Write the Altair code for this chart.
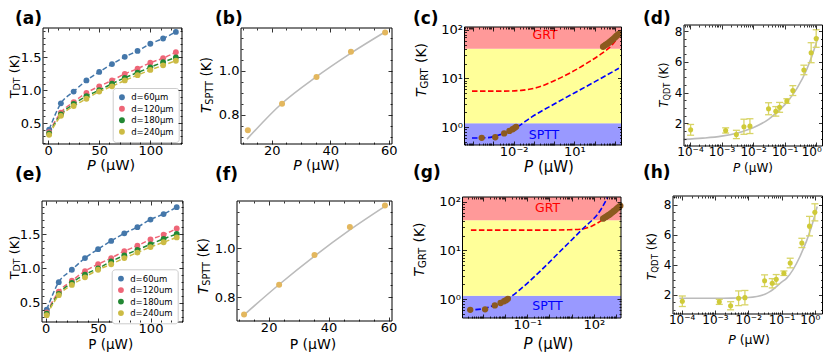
import altair as alt
import pandas as pd

W, H = 815, 344
FONT = "DejaVu Sans"

# ---------------- data ----------------
P_dt = [1, 12.5, 25, 37.5, 50, 62.5, 75, 87.5, 100, 112.5, 125]
T_dt_60 = [0.40, 0.80, 0.98, 1.15, 1.28, 1.40, 1.51, 1.60, 1.71, 1.79, 1.89]
T_dt_120 = [0.36, 0.66, 0.82, 0.96, 1.06, 1.15, 1.25, 1.33, 1.42, 1.49, 1.58]
T_dt_180 = [0.34, 0.63, 0.79, 0.91, 1.00, 1.10, 1.19, 1.27, 1.35, 1.43, 1.50]
T_dt_240 = [0.32, 0.61, 0.76, 0.87, 0.98, 1.06, 1.15, 1.23, 1.31, 1.38, 1.45]
names_top = ["d=60μm", "d=120μm", "d=180μm", "d=240μm"]
names_bot = ["d=60um", "d=120um", "d=180um", "d=240um"]
series_colors = ["#4477AA", "#EE6677", "#228833", "#CCBB44"]

P_sptt = [11.8, 23.5, 35.3, 47.1, 58.8]
T_sptt = [0.730, 0.851, 0.972, 1.087, 1.175]
fit_b_P = [11.5, 23.5, 35.3, 47.1, 58.9]
fit_b_T = [0.690, 0.853, 0.974, 1.081, 1.178]
fit_f_P = [11.8, 23.5, 35.3, 47.1, 58.9]
fit_f_T = [0.728, 0.852, 0.968, 1.075, 1.172]

sptt_logP = [-3.58, -2.91, -2.47, -2.21, -2.05, -1.96, -1.88]
sptt_T = [0.60, 0.615, 0.74, 0.83, 0.90, 0.95, 1.01]
grt_logP = [2.42, 2.48, 2.54, 2.60, 2.66, 2.72, 2.78, 2.84, 2.90, 2.96, 3.02, 3.08, 3.14, 3.20]
grt_T = [45, 47, 49, 51, 53, 55, 58, 61, 64, 67, 71, 75, 79, 83]

c_red_logP = [-4.06, -3.0, -2.45, -1.62, -0.80, 0.03, 0.86, 1.68, 2.34, 2.84, 3.28]
c_red_T = [5.5, 5.5, 5.5, 5.7, 6.6, 9.1, 13.5, 21.4, 32.4, 47.9, 83.0]
c_blue_logP = [-4.06, -3.27, -2.78, -2.28, -1.87, -1.12, 0.03, 1.68, 3.2]
c_blue_T = [0.594, 0.605, 0.676, 0.794, 0.977, 1.60, 3.02, 7.18, 16.2]
g_red_logP = [-3.55, -2.0, 0.0, 0.84, 1.44, 1.9, 2.35, 2.8, 3.2]
g_red_T = [26.2, 26.2, 26.2, 26.6, 27.5, 31.6, 41.7, 61.7, 89.1]
g_blue_logP = [-3.71, -3.08, -2.48, -2.03, -1.80, -1.27, -0.37, 0.54, 1.44, 2.35, 2.62]
g_blue_T = [0.594, 0.622, 0.753, 0.955, 1.08, 1.66, 3.94, 10.2, 26.2, 73.1, 123.0]
c_band_edges = [1.2, 41.0]
g_band_edges = [1.17, 42.0]
band_colors = ["#9999FF", "#FFFF99", "#FF9999"]

qdt_logP = [-3.98, -2.87, -2.53, -2.29, -2.10, -1.51, -1.28, -1.16, -0.93, -0.74, -0.39, -0.16, 0.0]
qdt_T = [1.58, 1.54, 1.28, 1.78, 1.82, 2.95, 2.78, 3.04, 3.45, 4.13, 5.47, 6.59, 7.51]
qdt_err = [0.35, 0.17, 0.27, 0.49, 0.48, 0.39, 0.31, 0.32, 0.15, 0.32, 0.31, 0.65, 0.57]
fit_d_logP = [-4.2, -3.6, -3.0, -2.5, -2.0, -1.5, -1.0, -0.6, -0.3, 0.0, 0.06]
fit_d_T = [0.96, 1.04, 1.17, 1.38, 1.72, 2.28, 3.2, 4.3, 5.5, 7.2, 7.62]
fit_h_logP = [-4.07, -3.0, -2.5, -2.0, -1.5, -1.35, -1.0, -0.85, -0.45, -0.1, 0.07]
fit_h_T = [1.78, 1.78, 1.79, 1.83, 2.05, 2.22, 2.85, 3.11, 4.55, 6.55, 7.9]

# ---------------- layout (pixels inside the chart) ----------------
GEOM = {
    'a': (35, 174, 20, 136), 'b': (233, 384, 20, 136),
    'c': (456.5, 613.5, 19, 137), 'd': (676, 814.5, 17, 138),
    'e': (34, 175, 193, 314), 'f': (229, 384, 193, 313),
    'g': (454.5, 613, 189, 310), 'h': (665, 814.5, 188, 306),
}
DOM = {
    'a': ([-5, 131], [0.18, 1.95]),
    'b': ([9.45, 61.15], [0.668, 1.195]),
    'c': ([10 ** -4.43, 10 ** 3.33], [10 ** -0.37, 10 ** 2.06]),
    'd': ([10 ** -4.19, 10 ** 0.20], [0.53, 8.39]),
    'e': ([-3.5, 131], [0.22, 1.98]),
    'f': ([9.45, 61.15], [0.703, 1.193]),
    'g': ([10 ** -3.93, 10 ** 3.23], [10 ** -0.39, 10 ** 2.1]),
    'h': ([10 ** -4.26, 10 ** 0.23], [0.73, 8.6]),
}
dt_xmaj = [0, 50, 100]
dt_xmin = [10, 20, 30, 40, 60, 70, 80, 90, 110, 120, 130]
dt_ymaj = [0.5, 1.0, 1.5]
dt_ymin = [0.2, 0.3, 0.4, 0.6, 0.7, 0.8, 0.9, 1.1, 1.2, 1.3, 1.4, 1.6, 1.7, 1.8, 1.9]
sp_xmaj = [20, 40, 60]
sp_xmin = [10, 15, 25, 30, 35, 45, 50, 55]
sp_ymaj = [0.8, 1.0]
sp_ymin = [0.7, 0.75, 0.85, 0.9, 0.95, 1.05, 1.1, 1.15]
qd_ymaj = [2, 4, 6, 8]
qd_ymin = [1, 1.5, 2.5, 3, 3.5, 4.5, 5, 5.5, 6.5, 7, 7.5, 8.5]
LOG_MINOR = [k * 10.0 ** e for e in range(-6, 4) for k in range(2, 10)]

SUP = str.maketrans("-0123456789", "⁻⁰¹²³⁴⁵⁶⁷⁸⁹")


def p10(e):
    return "10" + str(e).translate(SUP)


def log_expr(exps):
    expr = "''"
    for e in exps:
        expr = f"abs(log(datum.value)/LN10 - ({e})) < 0.01 ? '{p10(e)}' : {expr}"
    return expr


def within(vals, dom):
    lo, hi = dom
    return [v for v in vals if lo * 0.999 <= v <= hi * 1.001]


def mk_scale(kind, dom, rng):
    if kind == 'log':
        return alt.Scale(type='log', domain=dom, range=rng, nice=False)
    return alt.Scale(type='linear', domain=dom, range=rng, nice=False, zero=False)


def axis_layers(xs, ys, key, xmaj, xmin, ymaj, ymin, xlab, ylab, fs):
    x0, x1, y0, y1 = GEOM[key]
    xd, yd = DOM[key]
    xmaj, xmin = within(xmaj, xd), within(xmin, xd)
    ymaj, ymin = within(ymaj, yd), within(ymin, yd)
    df = pd.DataFrame({'x': xd, 'y': yd})
    base = dict(domain=False, grid=False, title=None, tickColor='black', tickWidth=0.8,
                labelColor='black', labelFlush=False, labelOverlap=False, zindex=3,
                labelFont=FONT, labelFontSize=fs)
    xlab = dict(xlab, labelPadding=0)
    ylab = dict(ylab, labelPadding=2)

    def A(orient, off, size, vals, labels, extra):
        kw = dict(base, orient=orient, offset=off, tickSize=size, values=vals, labels=labels)
        if labels:
            kw.update(extra)
        return alt.Axis(**kw)

    pairs = [
        (A('bottom', (y1 - 4) - H, 4, xmaj, True, xlab), A('left', -(x0 + 4), 4, ymaj, True, ylab)),
        (A('top', -(y0 + 4), 4, xmaj, False, {}), A('right', (x1 - 4) - W, 4, ymaj, False, {})),
        (A('bottom', (y1 - 2) - H, 2, xmin, False, {}), A('left', -(x0 + 2), 2, ymin, False, {})),
        (A('top', -(y0 + 2), 2, xmin, False, {}), A('right', (x1 - 2) - W, 2, ymin, False, {})),
    ]
    out = []
    for xa, ya in pairs:
        out.append(alt.Chart(df).mark_point(opacity=0).encode(
            x=alt.X('x:Q', scale=xs, axis=xa), y=alt.Y('y:Q', scale=ys, axis=ya)))
    return out


def frame(xs, ys, key):
    xd, yd = DOM[key]
    df = pd.DataFrame({'x': [xd[0]], 'x2': [xd[1]], 'y': [yd[0]], 'y2': [yd[1]]})
    return alt.Chart(df).mark_rect(fillOpacity=0, stroke='black', strokeWidth=1).encode(
        x=alt.X('x:Q', scale=xs, axis=None), x2='x2:Q',
        y=alt.Y('y:Q', scale=ys, axis=None), y2='y2:Q')


def enc(xs, ys, xf='P', yf='T'):
    return dict(x=alt.X(f'{xf}:Q', scale=xs, axis=None), y=alt.Y(f'{yf}:Q', scale=ys, axis=None))


def panel(key, xkind, ykind, layers_fn, ticks, xlab, ylab, fs):
    x0, x1, y0, y1 = GEOM[key]
    xd, yd = DOM[key]
    xs = mk_scale(xkind, xd, [x0, x1])
    ys = mk_scale(ykind, yd, [y1, y0])
    layers = layers_fn(xs, ys)
    layers.append(frame(xs, ys, key))
    layers += axis_layers(xs, ys, key, *ticks, xlab, ylab, fs)
    return alt.layer(*layers).resolve_axis(x='independent', y='independent')


# ---------- panel contents ----------
def dt_layers(names, lx, ly):
    def fn(xs, ys):
        out = []
        for col, Ts in zip(series_colors, [T_dt_60, T_dt_120, T_dt_180, T_dt_240]):
            df = pd.DataFrame({'P': P_dt, 'T': Ts})
            out.append(alt.Chart(df).mark_line(color=col, strokeWidth=1.5, strokeDash=[5, 2.5],
                                               interpolate='monotone').encode(**enc(xs, ys)))
        df_all = pd.DataFrame({'P': P_dt * 4, 'T': T_dt_60 + T_dt_120 + T_dt_180 + T_dt_240,
                               'd': [n for n in names for _ in P_dt]})
        out.append(alt.Chart(df_all).mark_circle(size=34, opacity=1).encode(
            **enc(xs, ys),
            color=alt.Color('d:N', scale=alt.Scale(domain=names, range=series_colors),
                            legend=alt.Legend(orient='none', legendX=lx, legendY=ly, title=None,
                                              labelFontSize=8.5, labelFont=FONT, symbolSize=34,
                                              symbolType='circle', symbolStrokeWidth=0,
                                              padding=5, rowPadding=2.5, labelOffset=5,
                                              strokeColor='#cccccc', fillColor='white',
                                              cornerRadius=3, offset=0))))
        return out
    return fn


def sptt_layers(fP, fT):
    def fn(xs, ys):
        fit = pd.DataFrame({'P': fP, 'T': fT})
        pts = pd.DataFrame({'P': P_sptt, 'T': T_sptt})
        return [
            alt.Chart(fit).mark_line(color='#BBBBBB', strokeWidth=1.6, interpolate='monotone').encode(**enc(xs, ys)),
            alt.Chart(pts).mark_circle(size=36, opacity=1, color='#E3B75E').encode(**enc(xs, ys)),
        ]
    return fn


def grt_layers(key, edges, rP, rT, bP, bT):
    def fn(xs, ys):
        xd, yd = DOM[key]
        bands = pd.DataFrame({'x': [xd[0]] * 3, 'x2': [xd[1]] * 3,
                              'y': [yd[0], edges[0], edges[1]], 'y2': [edges[0], edges[1], yd[1]],
                              'c': band_colors})
        red = pd.DataFrame({'P': [10 ** v for v in rP], 'T': rT})
        blue = pd.DataFrame({'P': [10 ** v for v in bP], 'T': bT})
        pts = pd.DataFrame({'P': [10 ** v for v in sptt_logP + grt_logP], 'T': sptt_T + grt_T})
        return [
            alt.Chart(bands).mark_rect().encode(
                x=alt.X('x:Q', scale=xs, axis=None), x2='x2:Q',
                y=alt.Y('y:Q', scale=ys, axis=None), y2='y2:Q',
                color=alt.Color('c:N', scale=None, legend=None)),
            alt.Chart(red).mark_line(color='#FF0000', strokeWidth=1.6, strokeDash=[5.5, 2.5],
                                     interpolate='monotone').encode(**enc(xs, ys)),
            alt.Chart(blue).mark_line(color='#0000FF', strokeWidth=1.6, strokeDash=[5.5, 2.5],
                                      interpolate='monotone').encode(**enc(xs, ys)),
            alt.Chart(pts).mark_circle(size=40, opacity=1, color='#8C5A1F').encode(**enc(xs, ys)),
        ]
    return fn


def qdt_layers(fP, fT):
    def fn(xs, ys):
        df = pd.DataFrame({'P': [10 ** v for v in qdt_logP], 'T': qdt_T,
                           'lo': [t - e for t, e in zip(qdt_T, qdt_err)],
                           'hi': [t + e for t, e in zip(qdt_T, qdt_err)]})
        fit = pd.DataFrame({'P': [10 ** v for v in fP], 'T': fT})
        ec = '#D8D466'
        return [
            alt.Chart(fit).mark_line(color='#BBBBBB', strokeWidth=1.6, interpolate='monotone').encode(**enc(xs, ys)),
            alt.Chart(df).mark_rule(color=ec, strokeWidth=1.3).encode(
                x=alt.X('P:Q', scale=xs, axis=None), y=alt.Y('lo:Q', scale=ys, axis=None), y2='hi:Q'),
            alt.Chart(df).mark_tick(orient='horizontal', size=7, thickness=1.3, color=ec, opacity=1).encode(
                **enc(xs, ys, 'P', 'lo')),
            alt.Chart(df).mark_tick(orient='horizontal', size=7, thickness=1.3, color=ec, opacity=1).encode(
                **enc(xs, ys, 'P', 'hi')),
            alt.Chart(df).mark_circle(size=26, opacity=1, color='#CFCA38').encode(**enc(xs, ys)),
        ]
    return fn


# ---------- text helpers ----------
SUBW = {'D': 0.770, 'T': 0.611, 'S': 0.635, 'P': 0.603, 'G': 0.775, 'R': 0.695, 'Q': 0.787}


def txt(s, x, y, size, align='left', angle=0, style='normal', weight='normal', color='black',
        baseline='alphabetic'):
    return alt.Chart(pd.DataFrame({'t': [s]})).mark_text(
        align=align, baseline=baseline, angle=angle, fontSize=size, fontStyle=style,
        fontWeight=weight, color=color, font=FONT).encode(text='t:N', x=alt.value(x), y=alt.value(y))


def ytitle(sub, bx, cy, fs, italic=True):
    fsub = 0.72 * fs
    wT = 0.611 * fs
    wsub = sum(SUBW[c] for c in sub) * fsub
    wsp = 0.318 * fs
    wK = 1.436 * fs
    L = wT + wsub + wsp + wK
    j = cy + L / 2 - wT
    return [
        txt('T', bx, j, fs, align='right', angle=270, style='italic' if italic else 'normal'),
        txt(sub, bx + 0.15 * fs, j, fsub, align='left', angle=270),
        txt('(K)', bx, j - wsub - wsp, fs, align='left', angle=270),
    ]


def xtitle(cx, by, fs, italic=True):
    if not italic:
        return [txt('P (μW)', cx, by, fs, align='center')]
    wP, wsp, wr = 0.603 * fs, 0.318 * fs, 2.404 * fs
    s = cx - (wP + wsp + wr) / 2
    return [txt('P', s, by, fs, style='italic'), txt('(μW)', s + wP + wsp, by, fs)]


LIN_X = {'format': 'd'}
LIN_Y = {'format': '.1f'}
INT_Y = {'format': 'd'}
QDT_X = {'labelExpr': log_expr([-4, -3, -2, -1, 0]),
         'labelOffset': {'condition': {'test': 'datum.value > 0.5', 'value': -5}, 'value': 0}}

panels = [
    panel('a', 'linear', 'linear', dt_layers(names_top, 104.7, 80),
          (dt_xmaj, dt_xmin, dt_ymaj, dt_ymin), LIN_X, LIN_Y, 13),
    panel('b', 'linear', 'linear', sptt_layers(fit_b_P, fit_b_T),
          (sp_xmaj, sp_xmin, sp_ymaj, sp_ymin), LIN_X, LIN_Y, 13),
    panel('c', 'log', 'log', grt_layers('c', c_band_edges, c_red_logP, c_red_T, c_blue_logP, c_blue_T),
          ([10.0 ** e for e in range(-4, 4)], LOG_MINOR, [1, 10, 100], LOG_MINOR),
          {'labelExpr': log_expr([-2, 1])}, {'labelExpr': log_expr([0, 1, 2])}, 13),
    panel('d', 'log', 'linear', qdt_layers(fit_d_logP, fit_d_T),
          ([10.0 ** e for e in range(-4, 1)], LOG_MINOR, qd_ymaj, qd_ymin),
          QDT_X, INT_Y, 12),
    panel('e', 'linear', 'linear', dt_layers(names_bot, 103.7, 261.3),
          (dt_xmaj, dt_xmin, dt_ymaj, dt_ymin), LIN_X, LIN_Y, 13),
    panel('f', 'linear', 'linear', sptt_layers(fit_f_P, fit_f_T),
          (sp_xmaj, sp_xmin, sp_ymaj, sp_ymin), LIN_X, LIN_Y, 13),
    panel('g', 'log', 'log', grt_layers('g', g_band_edges, g_red_logP, g_red_T, g_blue_logP, g_blue_T),
          ([10.0 ** e for e in range(-3, 4)], LOG_MINOR, [1, 10, 100], LOG_MINOR),
          {'labelExpr': log_expr([-1, 2])}, {'labelExpr': log_expr([0, 1, 2])}, 13),
    panel('h', 'log', 'linear', qdt_layers(fit_h_logP, fit_h_T),
          ([10.0 ** e for e in range(-4, 1)], LOG_MINOR, qd_ymaj, qd_ymin),
          QDT_X, INT_Y, 12),
]

texts = []
# panel letters
for lab, x, y in [('(a)', 7, 16), ('(b)', 207, 16), ('(c)', 405, 16), ('(d)', 635, 16),
                  ('(e)', 7, 172), ('(f)', 207, 172), ('(g)', 405, 170), ('(h)', 635, 170)]:
    texts.append(txt(lab, x, y, 17, weight='bold'))
# y titles
texts += ytitle('DT', 10.5, 68.5, 13, italic=False)
texts += ytitle('SPTT', 203, 77, 13.5)
texts += ytitle('GRT', 418, 62, 14)
texts += ytitle('QDT', 660, 77, 11.5)
texts += ytitle('DT', 10.5, 249.5, 13, italic=False)
texts += ytitle('SPTT', 200, 258, 13.5)
texts += ytitle('GRT', 416, 241.5, 14)
texts += ytitle('QDT', 648, 248.5, 12)
# x titles
texts += xtitle(103, 162, 14.5)
texts += xtitle(308.5, 162, 14)
texts += xtitle(541, 164, 15)
texts += xtitle(745, 164, 12)
texts += xtitle(102.7, 341, 13.5, italic=False)
texts += xtitle(305, 341, 14, italic=False)
texts += xtitle(540.5, 341, 15)
texts += xtitle(741, 336, 12.5)
# band annotations
texts.append(txt('GRT', 537, 27, 12.5, align='center', color='#FF0000', baseline='middle'))
texts.append(txt('SPTT', 536, 127, 12.5, align='center', color='#0000FF', baseline='middle'))
texts.append(txt('GRT', 539.5, 199.7, 12.5, align='center', color='#FF0000', baseline='middle'))
texts.append(txt('SPTT', 539.5, 298, 12.5, align='center', color='#0000FF', baseline='middle'))

chart = alt.layer(*panels, *texts).resolve_scale(
    x='independent', y='independent', color='independent'
).properties(
    width=W, height=H, padding=0, autosize=alt.AutoSizeParams(type='none')
).configure(font=FONT).configure_view(stroke=None)

chart.save("out.html", embed_options={"renderer": "svg", "actions": False})
